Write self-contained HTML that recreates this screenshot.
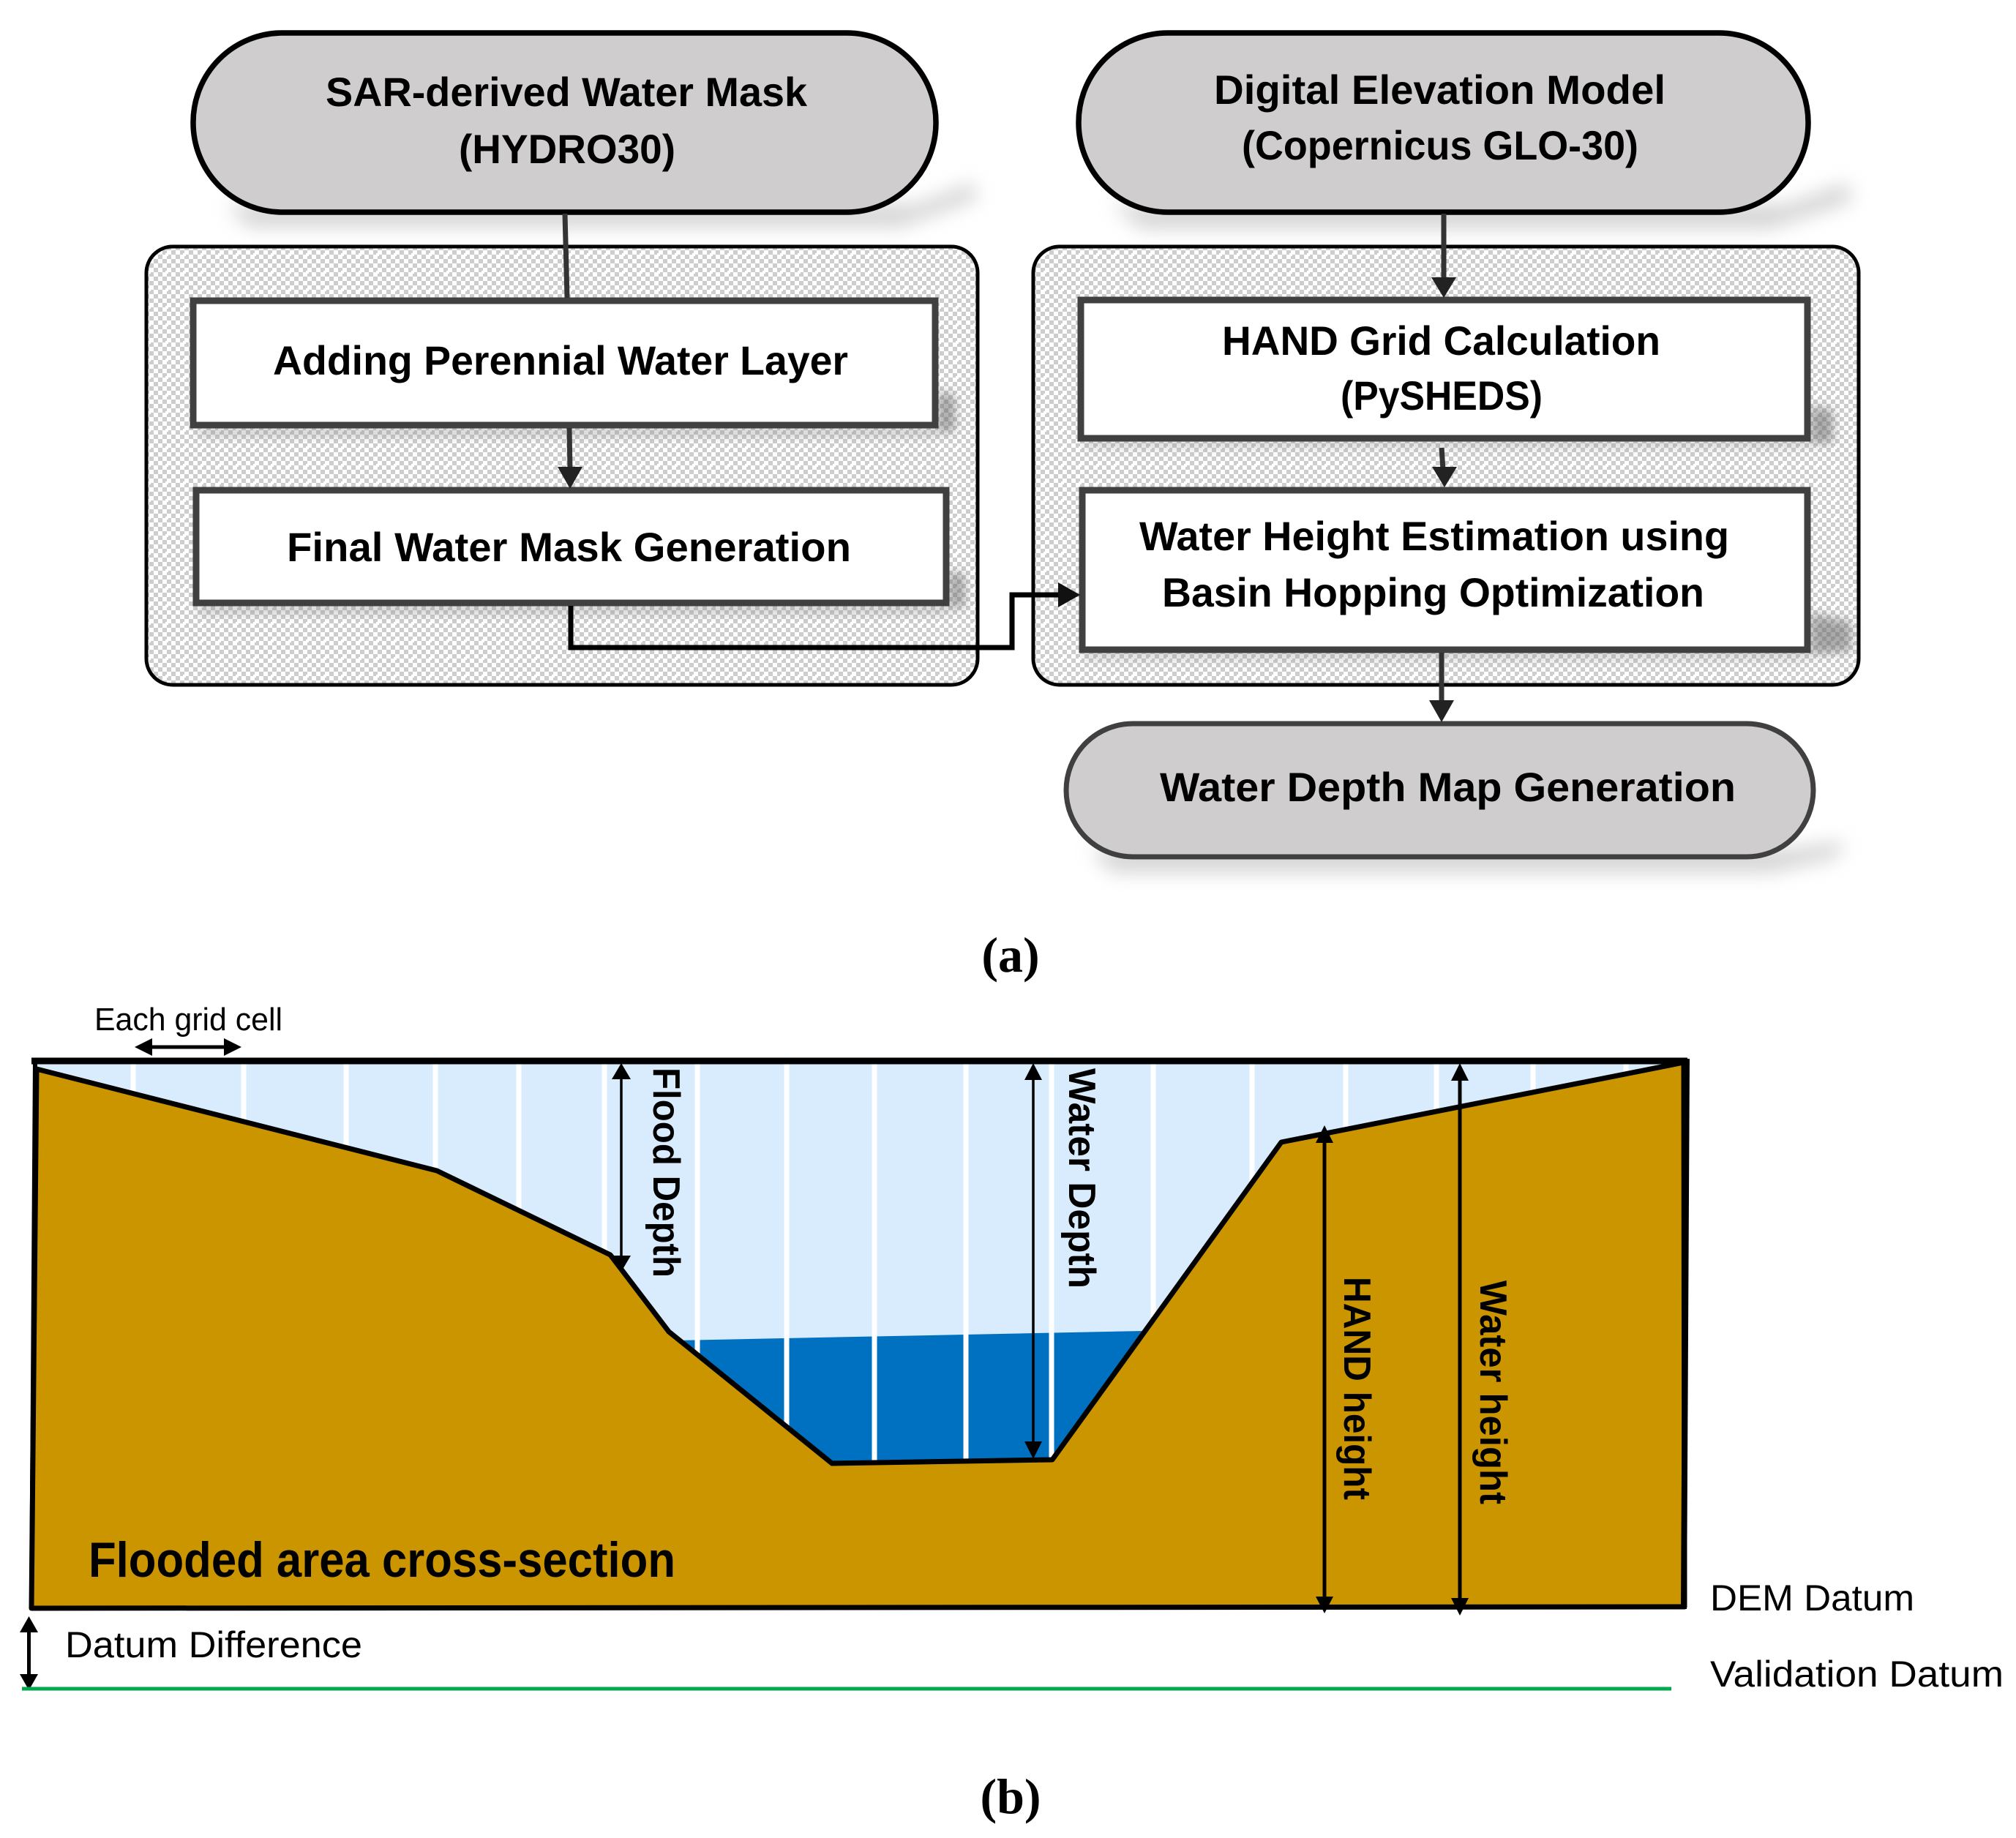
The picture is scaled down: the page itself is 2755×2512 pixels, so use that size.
<!DOCTYPE html>
<html><head><meta charset="utf-8"><style>html,body{margin:0;padding:0;background:#fff}svg{display:block}
text{font-family:"Liberation Sans",sans-serif;fill:#000}
.b{font-weight:bold;font-size:56px}.n{font-size:50px}.r{font-weight:bold;font-size:52px}
.s{font-family:"Liberation Serif",serif;font-weight:bold;font-size:68px;text-anchor:middle}</style></head><body>
<svg width="2755" height="2512" viewBox="0 0 2755 2512" xmlns="http://www.w3.org/2000/svg">
<defs>
<pattern id="chk" width="24" height="24" patternUnits="userSpaceOnUse"><rect width="24" height="24" fill="#fff"/><path d="M0 0h6v6H0zM12 0h6v6h-6zM6 6h6v6H6zM18 6h6v6h-6zM0 12h6v6H0zM12 12h6v6h-6zM6 18h6v6H6zM18 18h6v6h-6z" fill="#cdcdcd"/><path d="M10 10h4v4h-4z" fill="#fff"/></pattern>
<filter id="bl" x="-30%" y="-30%" width="160%" height="160%"><feGaussianBlur stdDeviation="13"/></filter>
<filter id="bs" x="-30%" y="-30%" width="160%" height="160%"><feGaussianBlur stdDeviation="7"/></filter>
</defs>
<rect width="2755" height="2512" fill="#fff"/>

<!-- containers -->
<rect x="200" y="337" width="1136" height="599" rx="36" fill="url(#chk)" stroke="#000" stroke-width="5"/>
<rect x="1412" y="337" width="1128" height="599" rx="36" fill="url(#chk)" stroke="#000" stroke-width="5"/>

<!-- soft shadows -->
<g filter="url(#bl)" fill="#a8a8a8" opacity=".5">
<path d="M310 280H1250L1330 250L1335 272L1230 310H340Z"/>
<path d="M1520 280H2440L2525 250L2530 275L2420 312H1560Z"/>
<path d="M1490 1160H2450L2520 1150L2510 1172L2420 1192H1520Z"/>
</g>
<g filter="url(#bs)" fill="#8a8a8a" opacity=".55">
<path d="M1282 535L1305 540L1305 590L1282 592Z" fill="#666"/>
<path d="M1297 780L1318 785L1318 830L1297 832Z" fill="#666"/>
<path d="M2474 555L2505 560L2505 605L2474 607Z" fill="#666"/>
<path d="M2474 838L2530 850L2530 890L2474 895Z" fill="#666"/>
<path d="M270 585H1280V595H270Z"/><path d="M270 828H1295V838H270Z"/>
<path d="M1480 602H2470V610H1480Z"/><path d="M1480 892H2470V900H1480Z"/>
</g>

<!-- pills -->
<rect x="264" y="45" width="1015" height="245" rx="122" fill="#cfcdce" stroke="#000" stroke-width="7.5"/>
<rect x="1474" y="45" width="997" height="245" rx="122" fill="#cfcdce" stroke="#000" stroke-width="7.5"/>
<rect x="1457" y="989" width="1021" height="182" rx="91" fill="#cfcdce" stroke="#404040" stroke-width="7"/>

<!-- boxes -->
<rect x="264" y="411" width="1014" height="170" fill="#fff" stroke="#404040" stroke-width="9"/>
<rect x="268" y="670" width="1025" height="154" fill="#fff" stroke="#404040" stroke-width="9"/>
<rect x="1477" y="410" width="993" height="189" fill="#fff" stroke="#404040" stroke-width="9"/>
<rect x="1479" y="670" width="991" height="218" fill="#fff" stroke="#404040" stroke-width="9"/>

<!-- connectors -->
<g stroke="#333" stroke-width="7" fill="none">
<path d="M772 292L775 407"/><path d="M778 585L779 642"/>
<path d="M1973 292L1973 384"/><path d="M1970 612L1972 642"/><path d="M1970 892L1970 962"/>
</g>
<g fill="#222">
<path d="M762 638H796L779 668Z"/><path d="M1956 379H1990L1973 407Z"/>
<path d="M1957 638H1991L1974 666Z"/><path d="M1953 957H1987L1970 987Z"/>
</g>
<path d="M780 828V885H1383V813H1450" fill="none" stroke="#000" stroke-width="7"/>
<path d="M1446 796L1476 813L1446 830Z" fill="#111"/>

<!-- flow text -->
<text class="b" x="445" y="145" textLength="658" lengthAdjust="spacingAndGlyphs">SAR-derived Water Mask</text>
<text class="b" x="627" y="223" textLength="296" lengthAdjust="spacingAndGlyphs">(HYDRO30)</text>
<text class="b" x="1659" y="142" textLength="617" lengthAdjust="spacingAndGlyphs">Digital Elevation Model</text>
<text class="b" x="1697" y="218" textLength="542" lengthAdjust="spacingAndGlyphs">(Copernicus GLO-30)</text>
<text class="b" x="373" y="512" textLength="786" lengthAdjust="spacingAndGlyphs">Adding Perennial Water Layer</text>
<text class="b" x="392" y="767" textLength="771" lengthAdjust="spacingAndGlyphs">Final Water Mask Generation</text>
<text class="b" x="1670" y="485" textLength="599" lengthAdjust="spacingAndGlyphs">HAND Grid Calculation</text>
<text class="b" x="1832" y="560" textLength="276" lengthAdjust="spacingAndGlyphs">(PySHEDS)</text>
<text class="b" x="1557" y="752" textLength="806" lengthAdjust="spacingAndGlyphs">Water Height Estimation using</text>
<text class="b" x="1588" y="829" textLength="741" lengthAdjust="spacingAndGlyphs">Basin Hopping Optimization</text>
<text class="b" x="1585" y="1095" textLength="787" lengthAdjust="spacingAndGlyphs">Water Depth Map Generation</text>

<text class="s" x="1381" y="1328">(a)</text>
<text class="s" x="1381" y="2478">(b)</text>

<!-- cross-section -->
<rect x="46" y="1450" width="2258" height="400" fill="#d9ecfd"/>
<path d="M925 1832L1562 1819L1438 1996L1136 2001L914 1820Z" fill="#0070c0"/>
<g stroke="#fff" stroke-width="7">
<path d="M182 1450V1520M333 1450V1560M473 1450V1600M595 1450V1640M709 1450V1700M826 1450V1740M953 1450V1860M1075 1450V1960M1195 1450V2000M1320 1450V2000M1437 1450V2000M1576 1450V1800M1711 1450V1620M1839 1450V1560M1963 1450V1530M2095 1450V1500M2222 1450V1480"/>
</g>
<path d="M50 1461L597 1600L834 1715L914 1820L1137 2000L1438 1995L1751 1561L2301 1452L2302 2196L43 2198Z" fill="#cb9500" stroke="#000" stroke-width="7" stroke-linejoin="round"/>
<path d="M43 1450H2306" stroke="#000" stroke-width="9"/>
<path d="M48 1447L43 2198" stroke="#000" stroke-width="6" fill="none"/>
<path d="M2305 1447L2301 2199" stroke="#000" stroke-width="8" fill="none"/>

<!-- dimension arrows -->
<g stroke="#000" fill="none">
<path d="M200 1431H314" stroke-width="5"/>
<path d="M849 1470V1722" stroke-width="3.5"/>
<path d="M1412 1470V1975" stroke-width="3.5"/>
<path d="M1810 1560V2190" stroke-width="5"/>
<path d="M1995 1470V2190" stroke-width="5"/>
<path d="M39.5 2225V2292" stroke-width="5"/>
</g>
<g fill="#000">
<path d="M184 1431L208 1419V1443ZM330 1431L306 1419V1443Z"/>
<path d="M849 1453L862 1475H836ZM849 1738L862 1716H836Z"/>
<path d="M1412 1453L1424 1476H1400ZM1412 1994L1424 1970H1400Z"/>
<path d="M1810 1538L1822 1562H1798ZM1810 2205L1822 2182H1798Z"/>
<path d="M1995 1453L2007 1477H1983ZM1995 2208L2007 2184H1983Z"/>
<path d="M39.5 2209L52 2231H27ZM39.5 2310L52 2288H27Z"/>
</g>
<path d="M30 2308H2284" stroke="#00a850" stroke-width="5"/>

<!-- cross-section labels -->
<text style="font-size:44px" x="129" y="1408" textLength="257" lengthAdjust="spacingAndGlyphs">Each grid cell</text>
<text style="font-weight:bold;font-size:68px" x="121" y="2155" textLength="802" lengthAdjust="spacingAndGlyphs">Flooded area cross-section</text>
<text class="n" x="89" y="2265" textLength="406" lengthAdjust="spacingAndGlyphs">Datum Difference</text>
<text class="n" x="2337" y="2201" textLength="279" lengthAdjust="spacingAndGlyphs">DEM Datum</text>
<text class="n" x="2337" y="2305" textLength="401" lengthAdjust="spacingAndGlyphs">Validation Datum</text>
<text class="r" transform="translate(893 1459) rotate(90)" textLength="287" lengthAdjust="spacingAndGlyphs">Flood Depth</text>
<text class="r" transform="translate(1461 1460) rotate(90)" textLength="301" lengthAdjust="spacingAndGlyphs">Water Depth</text>
<text class="r" transform="translate(1837 1745) rotate(90)" textLength="305" lengthAdjust="spacingAndGlyphs">HAND height</text>
<text class="r" transform="translate(2023 1750) rotate(90)" textLength="306" lengthAdjust="spacingAndGlyphs">Water height</text>
</svg>
</body></html>
